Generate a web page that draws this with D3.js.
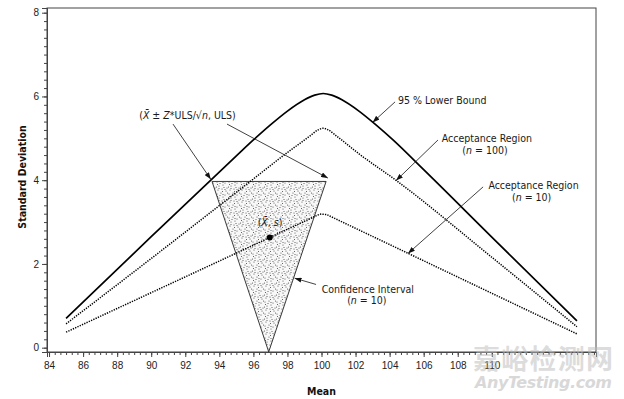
<!DOCTYPE html>
<html lang="en">
<head>
<meta charset="UTF-8">
<title>Acceptance region vs. lower bound</title>
<script src="https://d3js.org/d3.v7.min.js"></script>
<style>
body { margin: 0; background: #fff; }
svg { display: block; font-family: "DejaVu Sans Condensed", "DejaVu Sans", sans-serif; }
.tick text { font-size: 10px; fill: #222; }
.annot { font-size: 10.5px; fill: #1a1a1a; }
.axis-title { font-size: 10.5px; font-weight: bold; fill: #111; }
</style>
</head>
<body>
<svg id="chart" width="624" height="399"></svg>
<script>
// ---- data ----
const xTicks = [84, 86, 88, 90, 92, 94, 96, 98, 100, 102, 104, 106, 108, 110];
const yTicks = [0, 2, 4, 6, 8];

// 95 % lower bound (solid)
const lowerMean = [85, 90, 95, 96, 97, 98, 99, 99.6, 100.1, 100.6, 101.2, 102.2, 103.2, 104.2, 106, 110, 115];
const lowerSd   = [0.70, 2.65, 4.58, 4.96, 5.32, 5.65, 5.92, 6.03, 6.07, 6.03, 5.92, 5.65, 5.32, 4.96, 4.25, 2.64, 0.64];

// acceptance region n = 100 (dotted)
const acc100Mean = [85, 90, 95, 98, 99.3, 99.8, 100.1, 100.4, 100.9, 102.2, 104.4, 110, 115];
const acc100Sd   = [0.57, 2.13, 3.71, 4.66, 5.05, 5.20, 5.24, 5.20, 5.05, 4.63, 3.99, 2.16, 0.50];

// acceptance region n = 10 (dotted)
const acc10Mean = [85, 93.9, 99.9, 100.3, 105.1, 115];
const acc10Sd   = [0.37, 2.05, 3.19, 3.18, 2.25, 0.33];

// confidence interval triangle (n = 10)
const ciMean = [93.57, 100.27, 96.9];
const ciSd   = [3.97, 3.97, -0.1];

// sample point (x-bar, s)
const sampleMean = [96.96];
const sampleSd   = [2.63];

// SVG 크기
const width = 624;
const height = 399;
const margin = { left: 47, right: 28, top: 8, bottom: 47 };

const svg = d3.select("#chart");

const x = d3.scaleLinear().domain([83.88, 116.12]).range([margin.left, width - margin.right]);
const y = d3.scaleLinear().domain([-0.103, 8.112]).range([height - margin.bottom, margin.top]);

// stipple texture for the triangle
const defs = svg.append("defs");
const pat = defs.append("pattern")
    .attr("id", "stipple")
    .attr("patternUnits", "userSpaceOnUse")
    .attr("width", 12).attr("height", 12);
pat.append("rect").attr("width", 12).attr("height", 12).attr("fill", "#f8f8f8");
[[1, 2], [5, 1], [9, 3], [3, 6], [7, 5], [11, 8], [2, 10], [6, 9], [10, 11], [4, 3.5],
 [8, 7.5], [0.5, 7], [6.5, 11.5], [11.5, 1], [3, 8.5], [9, 9.5], [7, 2.5], [1.5, 4.5]]
    .forEach(p => pat.append("circle").attr("cx", p[0]).attr("cy", p[1]).attr("r", 0.5).attr("fill", "#333"));

defs.append("marker")
    .attr("id", "arrow")
    .attr("markerUnits", "userSpaceOnUse")
    .attr("markerWidth", 7).attr("markerHeight", 5)
    .attr("refX", 7).attr("refY", 2.5)
    .attr("orient", "auto")
    .append("path")
    .attr("d", "M0,0L7,2.5L0,5Z")
    .attr("fill", "#111");

// 프레임
svg.append("rect")
    .attr("x", margin.left).attr("y", margin.top)
    .attr("width", width - margin.left - margin.right)
    .attr("height", height - margin.top - margin.bottom)
    .attr("fill", "none").attr("stroke", "#444").attr("stroke-width", 1);

// minor ticks
const xMinor = d3.range(0, 97).map(i => 84 + i / 3);
const yMinor = d3.range(0, 41).map(i => i * 0.2);

const xAxisG = svg.append("g").attr("transform", `translate(0,${height - margin.bottom})`);
xAxisG.append("g").call(d3.axisBottom(x).tickValues(xMinor).tickSize(3).tickFormat(""));
xAxisG.append("g").call(d3.axisBottom(x).tickValues(xTicks).tickSize(5).tickPadding(5).tickFormat(d3.format("d")));

const yAxisG = svg.append("g").attr("transform", `translate(${margin.left},0)`);
yAxisG.append("g").call(d3.axisLeft(y).tickValues(yMinor).tickSize(3).tickFormat(""));
yAxisG.append("g").call(d3.axisLeft(y).tickValues(yTicks).tickSize(5).tickPadding(3).tickFormat(d3.format("d")));

svg.selectAll(".domain").attr("stroke", "#444");
svg.selectAll(".tick line").attr("stroke", "#444");

// axis titles
svg.append("text")
    .attr("class", "axis-title")
    .attr("x", (margin.left + width - margin.right) / 2)
    .attr("y", 395)
    .attr("text-anchor", "middle")
    .text("Mean");

svg.append("text")
    .attr("class", "axis-title")
    .attr("transform", "translate(26,177) rotate(-90)")
    .attr("text-anchor", "middle")
    .text("Standard Deviation");

// triangle
const tri = ciMean.map((m, i) => [x(m), y(ciSd[i])]);
svg.append("path")
    .attr("d", "M" + tri.join("L") + "Z")
    .attr("fill", "url(#stipple)")
    .attr("stroke", "#222")
    .attr("stroke-width", 0.9);

// curves
const line = d3.line().x(d => x(d[0])).y(d => y(d[1]));
const smooth = d3.line().x(d => x(d[0])).y(d => y(d[1])).curve(d3.curveMonotoneX);

svg.append("path")
    .datum(acc10Mean.map((m, i) => [m, acc10Sd[i]]))
    .attr("d", line)
    .attr("fill", "none").attr("stroke", "#000")
    .attr("stroke-width", 1.5).attr("stroke-dasharray", "1.3,1.2");

svg.append("path")
    .datum(acc100Mean.map((m, i) => [m, acc100Sd[i]]))
    .attr("d", smooth)
    .attr("fill", "none").attr("stroke", "#000")
    .attr("stroke-width", 1.5).attr("stroke-dasharray", "1.3,1.2");

svg.append("path")
    .datum(lowerMean.map((m, i) => [m, lowerSd[i]]))
    .attr("d", smooth)
    .attr("fill", "none").attr("stroke", "#000")
    .attr("stroke-width", 1.7);

svg.selectAll(".sample")
    .data(sampleMean)
    .enter()
    .append("circle")
    .attr("cx", d => x(d))
    .attr("cy", (d, i) => y(sampleSd[i]))
    .attr("r", 3)
    .attr("fill", "#000");

// annotations: [from, to] in data units
const arrows = [
    [[91.28, 5.34], [93.5, 4.02]],
    [[94.45, 5.34], [100.38, 4.05]],
    [[104.32, 5.87], [103.0, 5.38]],
    [[106.84, 4.96], [104.38, 3.99]],
    [[109.49, 3.84], [105.08, 2.25]],
    [[99.68, 1.51], [98.42, 1.66]]
];
svg.selectAll(".arrow")
    .data(arrows)
    .enter()
    .append("line")
    .attr("x1", d => x(d[0][0])).attr("y1", d => y(d[0][1]))
    .attr("x2", d => x(d[1][0])).attr("y2", d => y(d[1][1]))
    .attr("stroke", "#111").attr("stroke-width", 0.8)
    .attr("marker-end", "url(#arrow)");

function label(mx, sd, anchor, parts) {
    const t = svg.append("text")
        .attr("class", "annot")
        .attr("x", x(mx)).attr("y", y(sd))
        .attr("text-anchor", anchor);
    parts.forEach(p => {
        const s = t.append("tspan").text(p[0]);
        if (p[1]) s.attr("font-style", "italic");
    });
}

label(92.13, 5.47, "middle", [["("], ["X\u0304", 1], [" \u00b1 "], ["Z", 1], ["*ULS/\u221a"], ["n", 1], [", ULS)"]]);
label(104.49, 5.83, "start", [["95 % Lower Bound"]]);
label(107.06, 4.91, "start", [["Acceptance Region"]]);
label(109.6, 4.63, "middle", [["("], ["n", 1], [" = 100)"]]);
label(109.8, 3.78, "start", [["Acceptance Region"]]);
label(112.34, 3.50, "middle", [["("], ["n", 1], [" = 10)"]]);
label(100.01, 1.31, "start", [["Confidence Interval"]]);
label(102.66, 1.04, "middle", [["("], ["n", 1], [" = 10)"]]);
label(96.98, 2.91, "middle", [["("], ["X\u0304", 1], [", "], ["s", 1], [")"]]);

// watermark
svg.append("text")
    .attr("x", 473).attr("y", 369)
    .attr("font-family", "Noto Sans CJK SC")
    .attr("font-size", 27)
    .attr("font-weight", "bold")
    .attr("fill", "#bbb").attr("opacity", 0.5)
    .attr("textLength", 140)
    .text("嘉峪检测网");
svg.append("text")
    .attr("x", 475).attr("y", 388)
    .attr("font-family", "DejaVu Sans")
    .attr("font-size", 16)
    .attr("font-weight", "bold")
    .attr("font-style", "italic")
    .attr("fill", "#ccc").attr("opacity", 0.75)
    .attr("textLength", 137)
    .text("AnyTesting.com");
</script>
</body>
</html>
